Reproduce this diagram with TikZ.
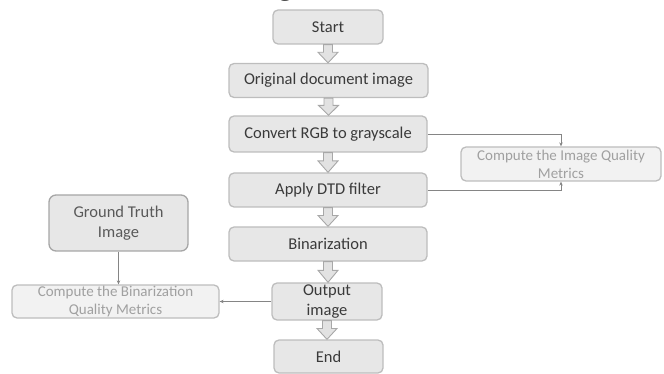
\documentclass[tikz,border=0pt]{standalone}
\usepackage{fontspec}
\setmainfont{Carlito}
\newfontfamily\capfont{Liberation Serif}
\usetikzlibrary{arrows.meta,calc}
\definecolor{boxfill}{HTML}{E7E7E7}
\definecolor{boxline}{HTML}{BDBDBD}
\definecolor{boxtext}{HTML}{3A3A3A}
\definecolor{litefill}{HTML}{F2F2F2}
\definecolor{litetext}{HTML}{A0A0A0}
\definecolor{gtline}{HTML}{A6A6A6}
\definecolor{gttext}{HTML}{595959}
\definecolor{conn}{HTML}{858585}
\definecolor{arrfill}{HTML}{E2E2E2}
\definecolor{arrline}{HTML}{A8A8A8}
\tikzset{
  mainbox/.style={draw=boxline, fill=boxfill, line width=1.3pt, rounded corners=5pt,
    text=boxtext, font=\fontsize{16.5}{20}\selectfont, inner sep=0pt, align=center},
  litebox/.style={draw=boxline, fill=litefill, line width=1.3pt, rounded corners=5pt,
    text=litetext, font=\fontsize{15}{18}\selectfont, inner sep=0pt, align=center},
  gtbox/.style={draw=gtline, fill=boxfill, line width=1.3pt, rounded corners=7pt,
    text=gttext, font=\fontsize{16.5}{20}\selectfont, inner sep=0pt, align=center},
  barrow/.style={fill=arrfill, draw=arrline, line width=0.9pt, line join=miter},
  connector/.style={draw=conn, line width=0.8pt, -{Stealth[length=4pt,width=3.5pt]}}
}
\newcommand\blockarr[2]{%
  \path (#1.south) coordinate (ba1) (#2.north) coordinate (ba2)
        ($(ba1)!0.42!(ba2)$) coordinate (ba3);
  \filldraw[barrow] ([xshift=-4.5pt]ba1) -- ([xshift=4.5pt]ba1) -- ([xshift=4.5pt]ba1|-ba3)
    -- ([xshift=10pt]ba1|-ba3) -- (ba1|-ba2) -- ([xshift=-10pt]ba1|-ba3)
    -- ([xshift=-4.5pt]ba1|-ba3) -- cycle;}
\begin{document}
\begin{tikzpicture}[x=1pt,y=-1pt]
\useasboundingbox (0,0) rectangle (664,374);
\begin{scope}
\clip (0,0) rectangle (664,374);
\node[anchor=base west, text=black!85, font=\capfont\fontsize{27}{32}\selectfont, inner sep=0pt]
  (cap) at (22,-4) {Restored document image.};
\end{scope}
% main column
\node[mainbox, minimum width=110pt, minimum height=34pt] (start) at (328,27) {Start};
\node[mainbox, minimum width=199pt, minimum height=34pt] (orig) at (328.5,80.5) {Original document image};
\node[mainbox, minimum width=198pt, minimum height=36pt] (conv) at (328,134) {Convert RGB to grayscale};
\node[mainbox, minimum width=198pt, minimum height=34pt] (dtd) at (328,190) {Apply DTD filter};
\node[mainbox, minimum width=198pt, minimum height=34pt] (bin) at (328,244) {Binarization};
\node[mainbox, minimum width=110pt, minimum height=37pt] (out) at (327,301.5) {Output\\image};
\node[mainbox, minimum width=109pt, minimum height=33pt] (end) at (328.5,356.5) {End};
% side boxes
\node[litebox, minimum width=200pt, minimum height=34pt] (iq) at (561,164) {Compute the Image Quality\\Metrics};
\node[gtbox, minimum width=139pt, minimum height=56pt] (gt) at (118.5,223) {Ground Truth\\Image};
\node[litebox, minimum width=207pt, minimum height=33pt] (bm) at (115.5,301.5) {Compute the Binarization\\Quality Metrics};
% block arrows
\blockarr{start}{orig}
\blockarr{orig}{conv}
\blockarr{conv}{dtd}
\blockarr{dtd}{bin}
\blockarr{bin}{out}
\blockarr{out}{end}
% connectors
\draw[connector] (conv.east) -| (iq.north);
\draw[connector] (dtd.east) -| (iq.south);
\draw[connector] (gt.south) -- (gt.south |- bm.north);
\draw[connector] (out.west) -- (out.west -| bm.east);
\end{tikzpicture}
\end{document}
